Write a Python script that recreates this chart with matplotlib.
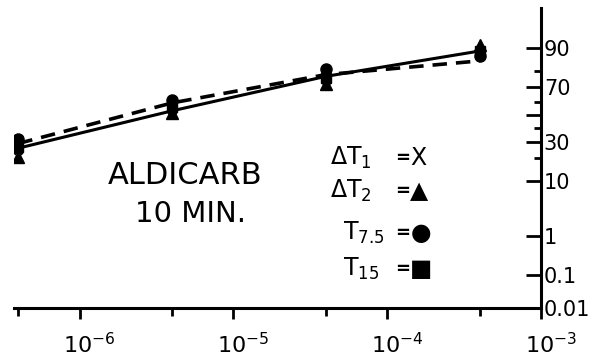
from statistics import NormalDist

import numpy as np
import matplotlib
matplotlib.use('Agg')
from matplotlib import pyplot as plt
from matplotlib.transforms import ScaledTranslation

# concentration (M) and response (%)
conc = [4e-7, 4e-6, 4e-5, 4e-4]
dt1 = [25, 54, 75, 89]      # X
dt2 = [21, 51, 72, 91]      # triangle
t75 = [32, 61, 81, 87]      # circle
t15 = [27, 56, 76, 89]      # square
line_solid = [26, 53, 77, 89]
line_dashed = [29, 59, 78, 85]

x_major = [1e-6, 1e-5, 1e-4, 1e-3]
x_labels = ['$10^{-6}$', '$10^{-5}$', '$10^{-4}$', '$10^{-3}$']
y_major = [0.01, 0.1, 1, 10, 30, 50, 70, 90]
y_labels = ['0.01', '0.1', '1', '10', '30', '', '70', '90']
y_minor = [20, 40, 60, 80]

_nd = NormalDist()


def probit(p):
    p = np.clip(np.asarray(p, dtype=float) / 100.0, 1e-9, 1 - 1e-9)
    return np.vectorize(_nd.inv_cdf, otypes=[float])(p)


def inv_probit(z):
    return np.vectorize(_nd.cdf, otypes=[float])(np.asarray(z, dtype=float)) * 100.0


fig = plt.figure(figsize=(5.98, 3.61), dpi=100)
ax = fig.add_axes([14 / 598, 1 - 308 / 361, 527 / 598, 300 / 361])
ax.set_xscale('log')
ax.set_yscale('function', functions=(probit, inv_probit))

ax.plot(conc, line_solid, color='black', lw=2.2, zorder=2)
ax.plot(conc, line_dashed, color='black', lw=2.6, ls=(0, (4, 2.5)), zorder=2)
ax.plot(conc, dt1, ls='none', marker='x', ms=6, mew=2, color='black', zorder=3)
ax.plot(conc, t15, ls='none', marker='s', ms=7, color='black', zorder=4)
ax.plot(conc, dt2, ls='none', marker='^', ms=9, color='black', zorder=4)
ax.plot(conc, t75, ls='none', marker='o', ms=8, color='black', zorder=4)

ax.set_xlim(3.75e-7, 1e-3)
ax.set_ylim(0.01, 98.0)

for side in ['top', 'left']:
    ax.spines[side].set_visible(False)
for side in ['bottom', 'right']:
    ax.spines[side].set_linewidth(2.2)

ax.set_xticks(x_major)
ax.set_xticklabels(x_labels, fontsize=16)
ax.set_xticks(conc, minor=True)
ax.xaxis.set_minor_formatter(matplotlib.ticker.NullFormatter())
ax.tick_params(axis='x', which='major', direction='out', length=8, width=2, pad=9)
ax.tick_params(axis='x', which='minor', direction='out', length=6, width=2)
offset = ScaledTranslation(10 / 100, 0, fig.dpi_scale_trans)
for lbl in ax.get_xticklabels():
    lbl.set_transform(lbl.get_transform() + offset)

ax.yaxis.tick_right()
ax.set_yticks(y_major)
ax.set_yticklabels(y_labels, fontsize=15)
ax.set_yticks(y_minor, minor=True)
ax.yaxis.set_minor_formatter(matplotlib.ticker.NullFormatter())
ax.tick_params(axis='y', which='major', direction='in', length=11, width=2, pad=2)
ax.tick_params(axis='y', which='minor', direction='in', length=5, width=2)

# title text
ax.text(0.325, 0.44, 'ALDICARB', transform=ax.transAxes, fontsize=22,
        ha='center', va='center')
ax.text(0.335, 0.315, '10 MIN.', transform=ax.transAxes, fontsize=21,
        ha='center', va='center')

# key
keys = [(r'$\mathregular{\Delta T_1}$', 'X', 0.50, 0.600),
        (r'$\mathregular{\Delta T_2}$', '\u25B2', 0.39, 0.600),
        (r'$\mathregular{T_{7.5}}$', '\u25CF', 0.25, 0.625),
        (r'$\mathregular{T_{15}}$', '\u25A0', 0.13, 0.625)]
for label, sym, yy, xx in keys:
    ax.text(xx, yy, label, transform=ax.transAxes, fontsize=17,
            ha='left', va='center')
    ax.text(0.723, yy, '=', transform=ax.transAxes, fontsize=13,
            ha='left', va='center', fontweight='bold')
    ax.text(0.752, yy, sym, transform=ax.transAxes, fontsize=17,
            ha='left', va='center')

fig.savefig('out.png', dpi=100)
